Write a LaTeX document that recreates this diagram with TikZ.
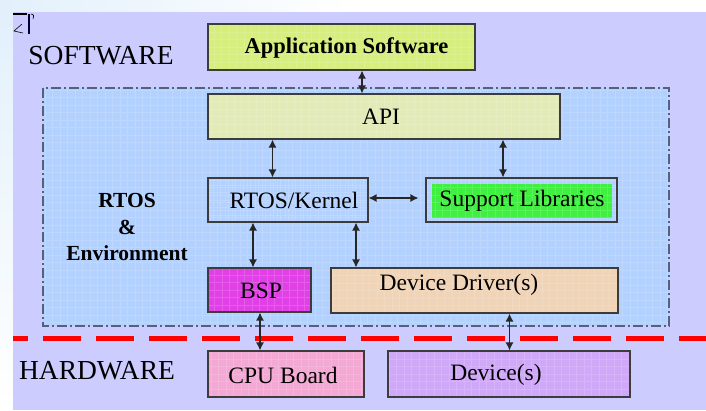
\documentclass[tikz,border=0pt]{standalone}
\usepackage{fontspec}
\setmainfont{Liberation Serif}
\usetikzlibrary{arrows.meta,calc}

\definecolor{slidebg}{HTML}{CCCCFF}
\definecolor{envblue}{HTML}{B3D1FF}
\definecolor{appfill}{HTML}{D6EE7E}
\definecolor{apifill}{HTML}{E2EAB8}
\definecolor{libgreen}{HTML}{40F040}
\definecolor{bspfill}{HTML}{E040E6}
\definecolor{ddfill}{HTML}{F0D4B8}
\definecolor{cpufill}{HTML}{F4A8D4}
\definecolor{devfill}{HTML}{D0A8F8}
\definecolor{boxline}{HTML}{3C3C3C}
\definecolor{envline}{HTML}{55607A}
\definecolor{swoosh}{HTML}{E2F0FC}

\tikzset{
  texture/.style={path picture={
      \draw[white, opacity=0.15, line width=0.5pt, step=7.5pt]
        (path picture bounding box.south west) grid (path picture bounding box.north east);}},
  blk/.style={draw=boxline, line width=1.1pt, rectangle, inner sep=0pt, texture},
  lbl/.style={inner sep=0pt, font=\fontsize{23.5}{26}\selectfont},
  link/.style={line width=1.3pt, draw=black!85,
               {Latex[length=8pt,width=8pt]}-{Latex[length=8pt,width=8pt]}},
  zonetitle/.style={inner sep=0pt, font=\fontsize{27.5}{30}\selectfont},
}

\begin{document}
\begin{tikzpicture}[x=1pt,y=-1pt]
% page frame and slide background
\useasboundingbox (0,0) rectangle (706,410);
\shade[left color=swoosh, right color=white, middle color=white] (0,0) rectangle (706,12);
\shade[top color=swoosh, bottom color=white] (0,12) rectangle (13,410);
\fill[slidebg] (13,12) rectangle (706,410);

% broken icon in the corner
\draw[black, line width=1.2pt] (13,14) -- (27,14);
\draw[black!80!blue, line width=2pt] (29,14) -- (29,34);
\draw[black, line width=0.6pt] (22,24) -- (14,31) -- (23,33);
\draw[black, line width=0.6pt] (31,14) .. controls (34,15) .. (33,19);

% RTOS environment zone
\path[fill=envblue, texture] (43,88) rectangle (669,326);
\draw[draw=envline, line width=1.3pt,
      dash pattern=on 10pt off 3pt on 2pt off 3pt] (43,88) rectangle (669,326);

% zone titles
\node[zonetitle] (sw) at (101,56) {SOFTWARE};
\node[zonetitle] (hw) at (97,371) {HARDWARE};
\node[inner sep=0pt, align=center, font=\fontsize{21.5}{26.5}\selectfont\bfseries]
  (env) at (127,227) {RTOS\\\&\\Environment};

% blocks
\node[blk, fill=appfill, minimum width=267pt, minimum height=46pt] (app) at (341.5,47) {};
\node[font=\fontsize{22.5}{24}\selectfont\bfseries, inner sep=0pt] (apptxt) at (346.5,48) {Application Software};

\node[blk, fill=apifill, minimum width=352pt, minimum height=45pt] (api) at (384,116.5) {};
\node[lbl] (apitxt) at (381,117) {API};

\node[blk, minimum width=160pt, minimum height=44pt] (rtos) at (288,200) {};
\node[lbl] (rtostxt) at (294,200) {RTOS/Kernel};

\node[blk, minimum width=191pt, minimum height=44pt] (supp) at (521.5,200) {};
\path[fill=libgreen, texture] (432,184) rectangle (612,218);
\node[lbl] (supptxt) at (522,201) {Support Libraries};

\node[blk, fill=bspfill, minimum width=103pt, minimum height=44pt] (bsp) at (259.5,290) {};
\node[lbl] (bsptxt) at (261,291) {BSP};

\node[blk, fill=ddfill, minimum width=287pt, minimum height=45pt] (dd) at (474.5,290.5) {};
\node[lbl] (ddtxt) at (459,285) {Device Driver(s)};

\node[blk, fill=cpufill, minimum width=156pt, minimum height=46pt] (cpu) at (286,374) {};
\node[lbl] (cputxt) at (283,375) {CPU Board};

\node[blk, fill=devfill, minimum width=242pt, minimum height=46pt] (dev) at (509,374) {};
\node[lbl] (devtxt) at (496,375) {Device(s)};

% hardware / software divide
\draw[red, line width=5pt, dash pattern=on 38pt off 15pt, dash phase=23pt]
  (13,338.5) -- (706,338.5);

% connectors
\draw[link] (app.south -| 362,0) -- (api.north -| 362,0);
\draw[link] (api.south -| 272.5,0) -- (rtos.north -| 272.5,0);
\draw[link] (api.south -| 503,0) -- (supp.north -| 503,0);
\draw[link, shorten >=7pt] (rtos.east |- 0,198) -- (supp.west |- 0,198);
\draw[link] (rtos.south -| 253,0) -- (bsp.north -| 253,0);
\draw[link] (rtos.south -| 356,0) -- (dd.north -| 356,0);
\draw[link] (bsp.south -| 260,0) -- (cpu.north -| 260,0);
\draw[link] (dd.south -| 509.5,0) -- (dev.north -| 509.5,0);
\end{tikzpicture}
\end{document}
